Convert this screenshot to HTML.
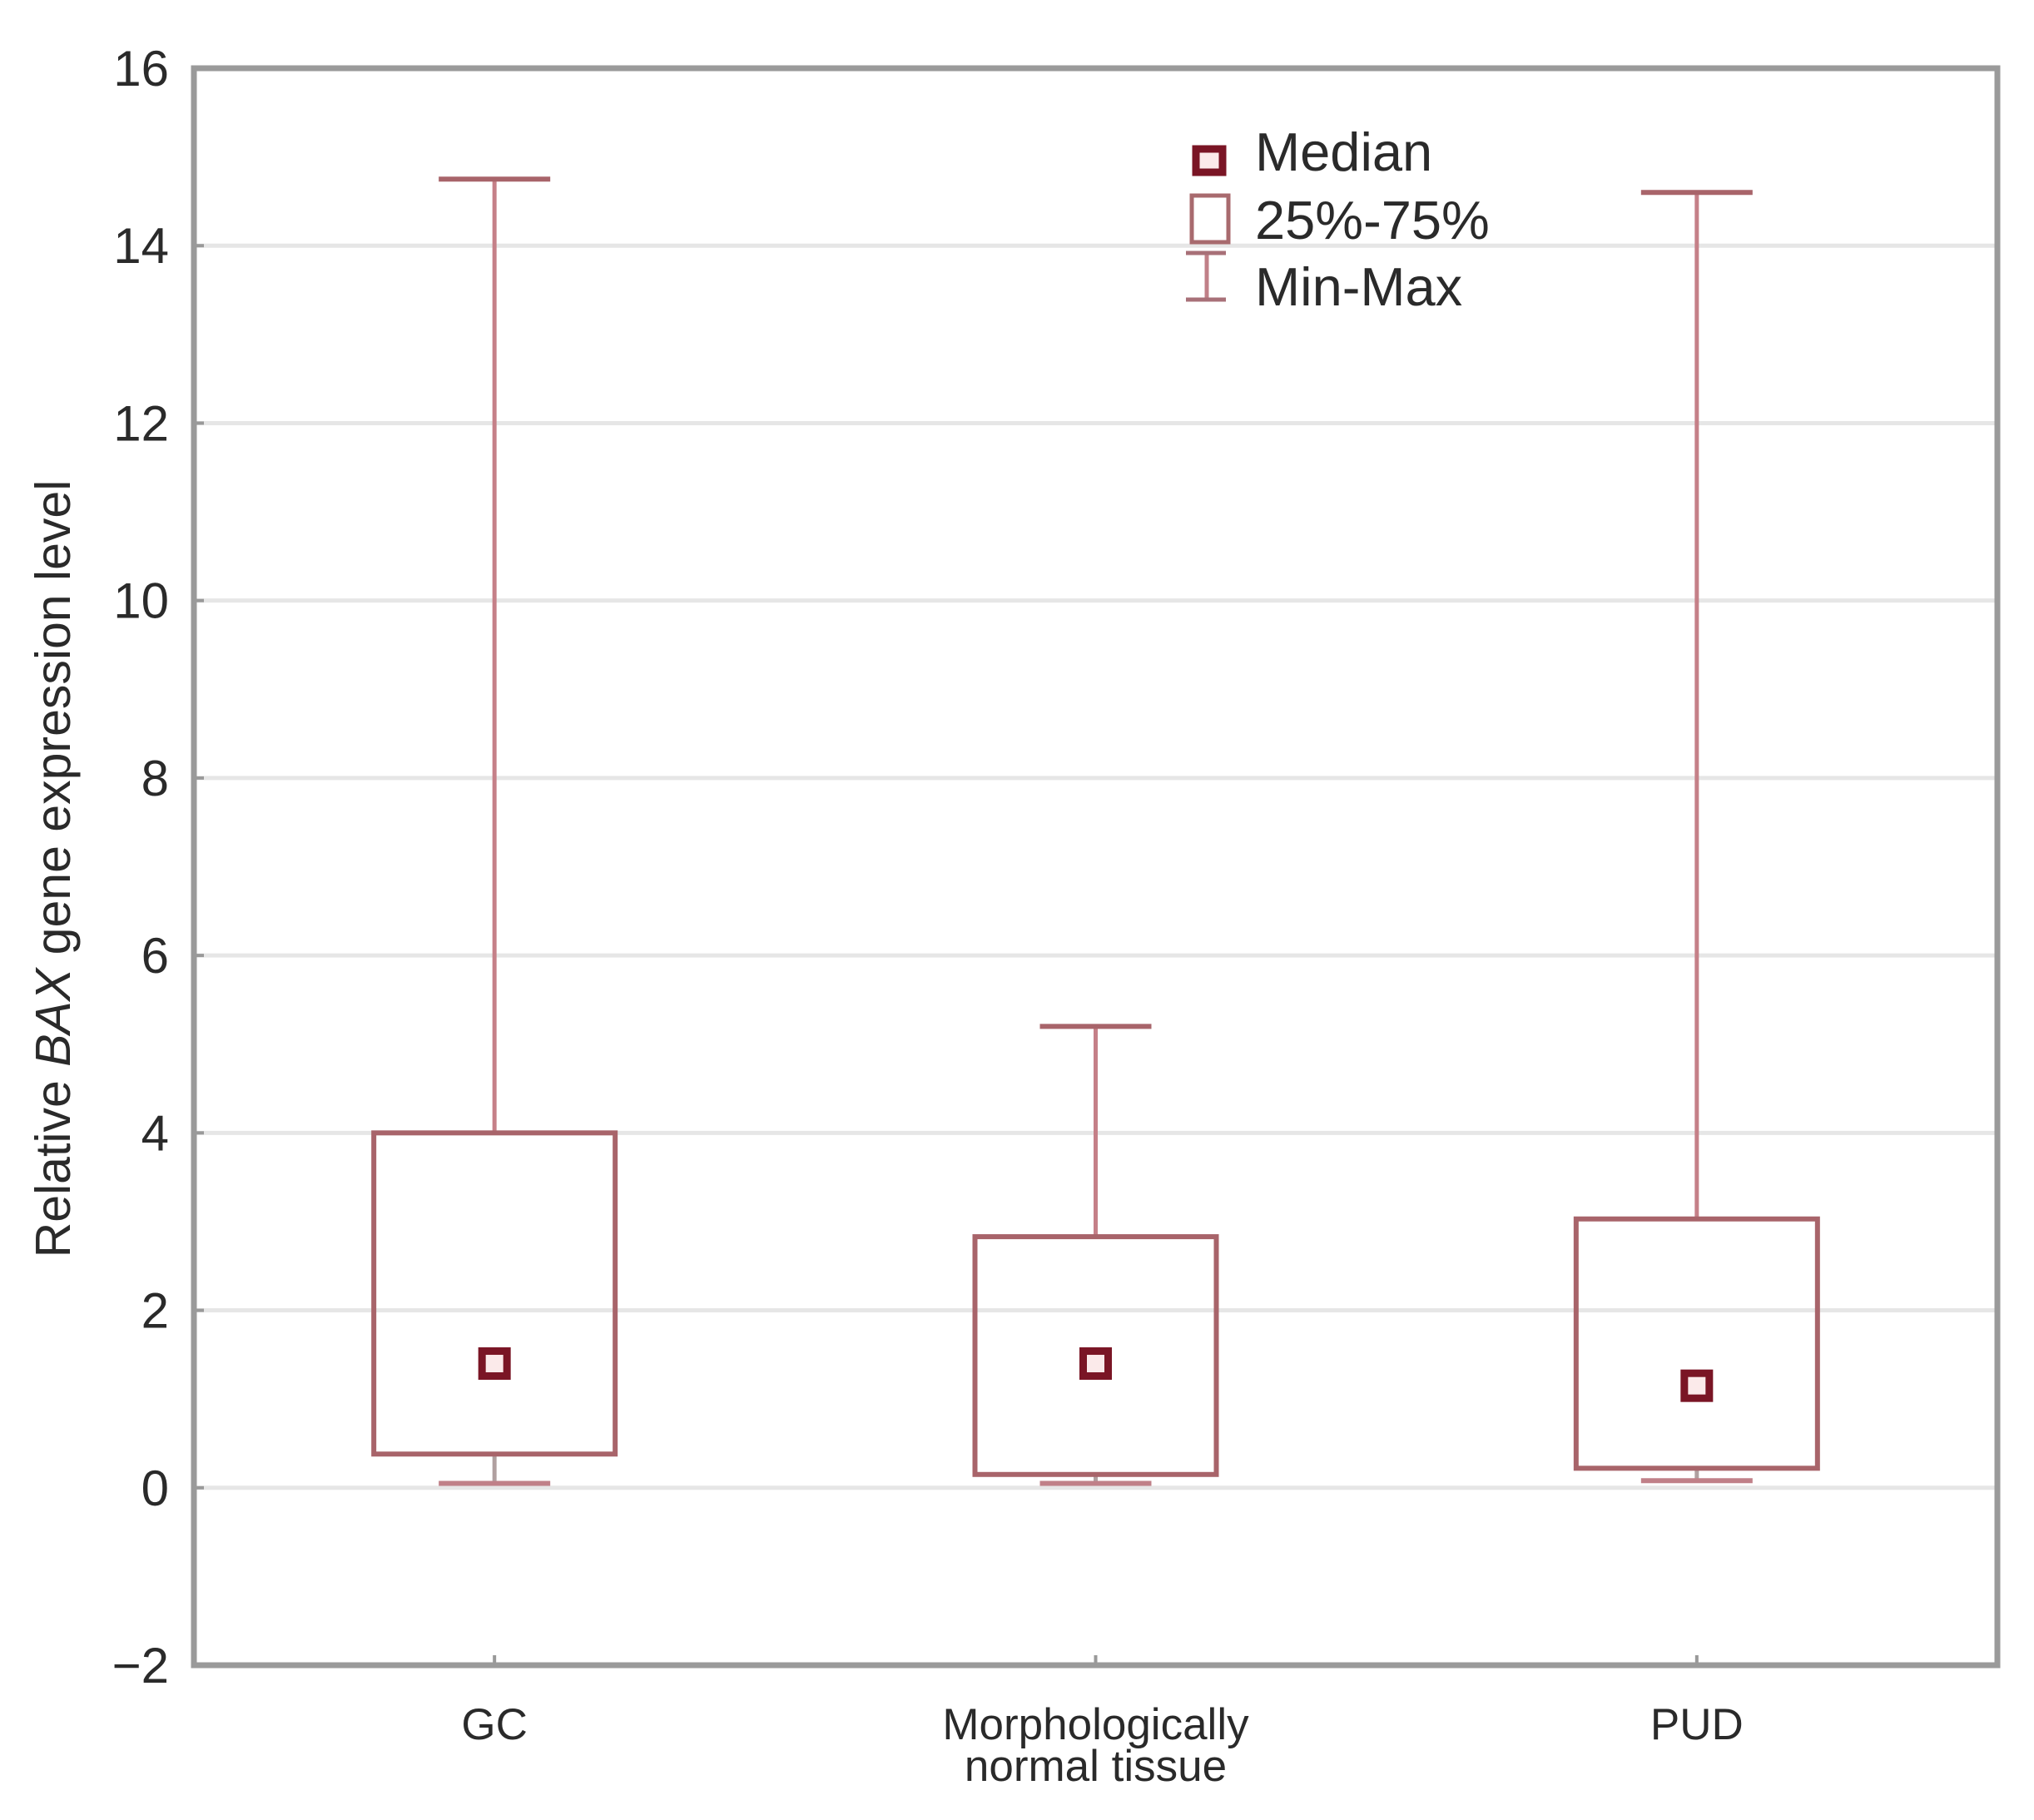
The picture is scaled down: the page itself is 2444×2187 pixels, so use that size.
<!DOCTYPE html>
<html><head><meta charset="utf-8"><style>
html,body{margin:0;padding:0;background:#fff;}
svg{display:block;}
text{font-family:"Liberation Sans",sans-serif;fill:#2a2a2a;}
</style></head><body>
<svg id="chart" width="2444" height="2187" viewBox="0 0 2444 2187">
<g id="grid"></g>
<g id="axes"></g>
<g id="boxes"></g>
<text x="0" y="0" transform="translate(84,1044) rotate(-90)" text-anchor="middle" font-size="59">Relative <tspan font-style="italic">BAX</tspan> gene expression level</text>
<g>
  <g>
    <rect x="1437" y="179" width="32" height="28" fill="#fbeaea" stroke="#7a1525" stroke-width="9"/>
    <text x="1508" y="205" font-size="65">Median</text>
  </g>
  <g>
    <rect x="1432" y="235" width="44" height="56" fill="none" stroke="#a86a6e" stroke-width="5"/>
    <text x="1508" y="287" font-size="65">25%-75%</text>
  </g>
  <g>
    <line x1="1450" y1="304" x2="1450" y2="360" stroke="#c08088" stroke-width="5"/>
    <line x1="1425" y1="304" x2="1473" y2="304" stroke="#a87078" stroke-width="5"/>
    <line x1="1425" y1="360" x2="1473" y2="360" stroke="#a87078" stroke-width="5"/>
    <text x="1508" y="367" font-size="65">Min-Max</text>
  </g>
</g>
</svg>
<script>
const categories = ["GC", "Morphologically normal tissue", "PUD"];
const maxVals = [14.75, 5.2, 14.6];
const q3Vals = [4.0, 2.83, 3.03];
const medianVals = [1.4, 1.4, 1.15];
const q1Vals = [0.38, 0.15, 0.22];
const minVals = [0.05, 0.05, 0.08];
const yTicks = [-2, 0, 2, 4, 6, 8, 10, 12, 14, 16];

const NS = "http://www.w3.org/2000/svg";
const L = 233, R = 2400, T = 82, B = 2001, yMin = -2, yMax = 16;
function y(v){ return B - (v - yMin) / (yMax - yMin) * (B - T); }
const band = (R - L) / categories.length;
function x(i){ return L + band * (i + 0.5); }
function mk(tag, attrs, parent){
  const e = document.createElementNS(NS, tag);
  for (const k in attrs) e.setAttribute(k, attrs[k]);
  parent.appendChild(e); return e;
}
const grid = document.getElementById('grid');
const axes = document.getElementById('axes');
const boxes = document.getElementById('boxes');

yTicks.forEach(t => {
  if (t !== yMin && t !== yMax) {
    const g = mk('line', {x1:L, x2:R, y1:y(t), y2:y(t), stroke:'#e6e6e6', 'stroke-width':5}, grid);
    
    
  }
  const lb = mk('text', {x:203, y:y(t)+21, 'text-anchor':'end', 'font-size':60}, axes);
  lb.textContent = t < 0 ? '\u2212' + Math.abs(t) : String(t);
  
  
  const tk = mk('line', {x1:L, x2:L+12, y1:y(t), y2:y(t), stroke:'#999', 'stroke-width':4}, axes);
  
  
});
const frame = mk('rect', {x:L, y:T, width:R-L, height:B-T, fill:'none', stroke:'#9a9a9a', 'stroke-width':7}, axes);



categories.forEach((c, i) => {
  const cx = x(i), bw = 290, cw = 134;
  const g = mk('g', {}, boxes);
  
  
  const col = '#a8646a';
  mk('line', {x1:cx, x2:cx, y1:y(maxVals[i]), y2:y(q3Vals[i]), stroke:'#c58088', 'stroke-width':5}, g);
  mk('line', {x1:cx, x2:cx, y1:y(q1Vals[i]), y2:y(minVals[i]), stroke:'#b0a0a0', 'stroke-width':5}, g);
  mk('line', {x1:cx-cw/2, x2:cx+cw/2, y1:y(maxVals[i]), y2:y(maxVals[i]), stroke:col, 'stroke-width':6}, g);
  mk('line', {x1:cx-cw/2, x2:cx+cw/2, y1:y(minVals[i]), y2:y(minVals[i]), stroke:'#c08088', 'stroke-width':6}, g);
  mk('rect', {x:cx-bw/2, y:y(q3Vals[i]), width:bw, height:y(q1Vals[i])-y(q3Vals[i]), fill:'none', stroke:col, 'stroke-width':6}, g);
  const m = mk('rect', {x:cx-15, y:y(medianVals[i])-15, width:30, height:30, fill:'#fbeaea', stroke:'#7a1525', 'stroke-width':9}, g);
  
  
  const tk = mk('line', {x1:cx, x2:cx, y1:B-12, y2:B, stroke:'#999', 'stroke-width':4}, axes);
  
  
  const lb = mk('text', {x:cx, y:2090, 'text-anchor':'middle', 'font-size':53, fill:'#2e2e2e'}, axes);
  
  
  if (c === "Morphologically normal tissue") {
    mk('tspan', {x:cx, dy:0}, lb).textContent = "Morphologically";
    mk('tspan', {x:cx, dy:50}, lb).textContent = "normal tissue";
  } else {
    lb.textContent = c;
  }
});
</script>
</body></html>
